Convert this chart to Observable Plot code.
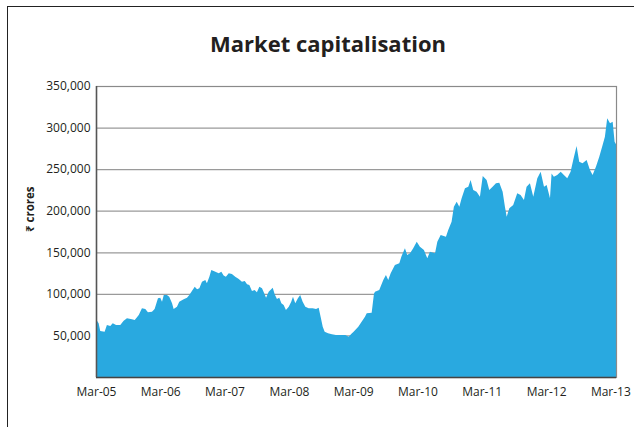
<!DOCTYPE html>
<html>
<head>
<meta charset="utf-8">
<script src="https://cdn.jsdelivr.net/npm/d3@7"></script>
<script src="https://cdn.jsdelivr.net/npm/@observablehq/plot@0.6"></script>
<style>
  html, body { margin: 0; padding: 0; background: #fff; overflow: hidden; }
  body { width: 634px; height: 427px; position: relative; font-family: "Open Sans", "Noto Sans", "DejaVu Sans", sans-serif; }
  #frame { position: absolute; left: 7px; top: 6px; width: 700px; height: 500px; border: 1.5px solid #222; box-sizing: border-box; }
  #title { position: absolute; left: 0; width: 656px; top: 28px; text-align: center; font-size: 22px; font-weight: 700; color: #231f20; }
  #chart { position: absolute; left: 0; top: 70px; }
</style>
</head>
<body>
<div id="frame"></div>
<div id="title">Market capitalisation</div>
<div id="chart"></div>
<script>
const titleText = "Market capitalisation";
const yLabel = "₹ crores";

const dates = [
  "2005-03-01","2005-03-16","2005-03-25","2005-04-19","2005-05-02","2005-05-21","2005-06-04","2005-06-23","2005-07-17","2005-08-05",
  "2005-08-24","2005-09-21","2005-10-07","2005-10-30","2005-11-17","2005-12-06","2005-12-21","2006-01-13","2006-01-28","2006-02-16",
  "2006-03-01","2006-03-11","2006-03-21","2006-04-08","2006-04-21","2006-05-07","2006-05-16","2006-06-04","2006-06-17","2006-07-12",
  "2006-07-31","2006-08-13","2006-08-28","2006-09-13","2006-09-26","2006-10-09","2006-10-24","2006-11-12","2006-11-21","2006-12-05",
  "2006-12-16","2007-01-08","2007-01-27","2007-02-11","2007-02-24","2007-03-09","2007-03-25","2007-04-12","2007-05-01","2007-05-21",
  "2007-06-08","2007-06-24","2007-07-07","2007-07-20","2007-08-04","2007-08-19","2007-09-01","2007-09-15","2007-09-30","2007-10-15",
  "2007-10-23","2007-11-07","2007-11-30","2007-12-11","2007-12-24","2008-01-06","2008-01-18","2008-01-31","2008-02-13","2008-02-29",
  "2008-03-14","2008-03-24","2008-04-06","2008-04-21","2008-05-04","2008-05-18","2008-06-02","2008-06-21","2008-07-14","2008-08-02",
  "2008-08-17","2008-08-28","2008-09-09","2008-09-20","2008-10-09","2008-10-31","2008-11-23","2008-12-18","2009-01-15","2009-02-03",
  "2009-02-22","2009-03-02","2009-03-30","2009-04-18","2009-05-07","2009-05-17","2009-06-14","2009-06-27","2009-07-03","2009-07-27",
  "2009-08-19","2009-09-03","2009-09-16","2009-09-30","2009-10-24","2009-11-18","2009-12-01","2009-12-20","2010-01-02","2010-01-18",
  "2010-02-05","2010-02-25","2010-03-15","2010-04-07","2010-04-26","2010-05-11","2010-06-09","2010-06-22","2010-07-11","2010-08-10",
  "2010-08-23","2010-09-11","2010-09-24","2010-10-10","2010-10-25","2010-11-07","2010-11-26","2010-12-15","2010-12-28","2011-01-12",
  "2011-01-31","2011-02-19","2011-03-07","2011-03-29","2011-04-13","2011-05-02","2011-05-21","2011-06-09","2011-06-28","2011-07-11",
  "2011-07-21","2011-08-05","2011-08-27","2011-09-19","2011-10-08","2011-10-27","2011-11-11","2011-11-30","2011-12-19","2012-01-11",
  "2012-01-30","2012-02-18","2012-03-04","2012-03-23","2012-04-01","2012-04-14","2012-05-03","2012-05-23","2012-06-10","2012-06-29",
  "2012-07-18","2012-08-02","2012-08-21","2012-09-05","2012-09-24","2012-10-17","2012-11-05","2012-11-20","2012-12-09","2012-12-28",
  "2013-01-16","2013-01-29","2013-02-11","2013-02-27","2013-03-14","2013-03-25","2013-04-02"
];

const marketCap = [
  69400,64600,55300,54500,62500,61300,64600,62500,62500,67700,
  70600,69400,68600,74600,82600,81800,77800,78500,81800,94600,
  95400,90600,98600,98600,96600,88600,81800,84500,90600,93400,
  95400,98600,103400,108600,105500,106700,114700,116700,112700,120600,
  128700,126600,124700,126600,122000,120600,124700,123900,120600,117900,
  114700,115500,111500,110600,103400,104600,101900,108600,106700,99400,
  95400,102600,107400,99400,93800,95400,88600,86600,80600,84500,
  90600,96600,88600,94600,98600,90600,84500,82600,82600,81800,
  83300,72500,60500,54500,52500,51300,50500,50500,50500,48500,
  52500,54000,60500,66500,72500,76600,77300,100000,102600,104600,
  116700,122700,116700,124700,134700,136700,145500,154800,146700,148700,
  154800,162700,156700,152700,142700,150700,148700,162700,170800,168700,
  176800,186800,204800,210800,204800,214900,226900,228900,236900,224900,
  222900,216900,241700,236900,224900,228900,232900,233700,222900,204800,
  192800,202900,206900,220900,218900,212900,228900,232900,216900,238900,
  246900,228900,230900,214900,244900,240900,242900,246900,242900,238900,
  246900,261000,277800,259000,257000,261000,249000,242900,253000,265000,
  279000,289000,311100,305100,307100,283000,280000
];

const yTicks = [50000, 100000, 150000, 200000, 250000, 300000, 350000];
const xTickDates = ["2005-03-01","2006-03-01","2007-03-01","2008-03-01","2009-03-01","2010-03-01","2011-03-01","2012-03-01","2013-03-01"];
const xTickLabels = ["Mar-05","Mar-06","Mar-07","Mar-08","Mar-09","Mar-10","Mar-11","Mar-12","Mar-13"];

const parse = d3.utcParse("%Y-%m-%d");
const data = dates.map((d, i) => ({date: parse(d), value: marketCap[i]}));
const xTicks = xTickDates.map(parse);

const font = '"Open Sans", "Noto Sans", "DejaVu Sans", sans-serif';

const chart = Plot.plot({
  width: 634,
  height: 357,
  marginLeft: 96,
  marginRight: 18,
  marginTop: 16,
  marginBottom: 50,
  style: {fontFamily: font, fontSize: "12px", color: "#231f20", background: "transparent"},
  x: {type: "utc", domain: [parse("2005-03-01"), parse("2013-04-02")]},
  y: {domain: [0, 350000]},
  marks: [
    Plot.ruleY(yTicks, {stroke: "#9a9a9a", strokeWidth: 1.2}),
    Plot.areaY(data, {x: "date", y: "value", fill: "#29a9e0", curve: "linear"}),
    Plot.frame({stroke: "#8a8a8a", strokeWidth: 1.2}),
    Plot.ruleY([0], {stroke: "#444", strokeWidth: 1.5}),
    Plot.ruleX([parse("2005-03-01")], {stroke: "#555", strokeWidth: 1.5}),
    Plot.axisY({ticks: yTicks, tickSize: 0, tickPadding: 6, tickFormat: d3.format(","), label: null, fontSize: 12}),
    Plot.axisX({ticks: xTicks, tickSize: 0, tickPadding: 10, tickFormat: (d, i) => xTickLabels[i], label: null, fontSize: 12}),
    Plot.text([yLabel], {frameAnchor: "left", dx: -66, rotate: -90, text: d => d, fontWeight: "bold", fontSize: 11.5, fill: "#231f20"})
  ]
});
document.getElementById("chart").appendChild(chart);
</script>
</body>
</html>
